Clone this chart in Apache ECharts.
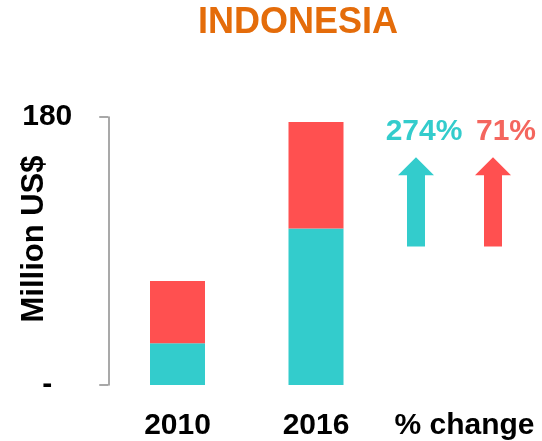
<!DOCTYPE html>
<html>
<head>
<meta charset="utf-8">
<script src="https://cdn.jsdelivr.net/npm/echarts@6/dist/echarts.min.js"></script>
<style>html,body{margin:0;padding:0;background:#fff}#c{width:542px;height:441px}</style>
</head>
<body>
<div id="c"></div>
<script>
var categories = ['2010', '2016', '% change'];
var tealValues = [28.1, 105.1, null];
var redValues = [41.8, 71.5, null];
// arrows in the "% change" column: [category index, arrow bottom, arrow top, side, label]
var changeArrows = [
  [2, 93, 153, -1, '274%'],
  [2, 93, 153, 1, '71%']
];
var yTicks = [0, 180];

var TEAL = '#33CCCC', RED = '#FF5050', RED_TXT = '#F4665E', ORANGE = '#E46C0A';
var FONT = '"Liberation Sans", Arial, sans-serif';

var chart = echarts.init(document.getElementById('c'), null, {renderer: 'canvas'});
chart.setOption({
  animation: false,
  title: {
    text: 'INDONESIA', left: 293, top: 0, textAlign: 'center',
    textStyle: {color: ORANGE, fontSize: 36, fontWeight: 'bold', fontFamily: FONT}
  },
  grid: {left: 108.25, right: 18.25, top: 117, bottom: 55},
  xAxis: {
    type: 'category',
    data: categories.map(function (c, i) {
      return i === 2 ? {value: c, textStyle: {padding: [0, 0, 0, 20]}} : c;
    }),
    axisLine: {show: false}, axisTick: {show: false},
    axisLabel: {color: '#000', fontSize: 30, fontWeight: 'bold', fontFamily: FONT, margin: 26, interval: 0}
  },
  yAxis: {
    type: 'value', min: yTicks[0], max: yTicks[1], interval: yTicks[1] - yTicks[0],
    splitLine: {show: false},
    axisLine: {show: true, lineStyle: {color: '#8c8c8c', width: 1.5}},
    axisTick: {show: true, inside: false, length: 9, lineStyle: {color: '#8c8c8c', width: 1.5}},
    axisLabel: {
      color: '#000', fontSize: 30, fontWeight: 'bold', fontFamily: FONT, margin: 61, align: 'center',
      formatter: function (v) { return v === 0 ? '-' : String(v); }
    }
  },
  graphic: [{
    type: 'text', rotation: Math.PI / 2,
    x: 34, y: 239,
    style: {text: 'Million US$', fill: '#000', font: 'bold 31px ' + FONT, textAlign: 'center', textVerticalAlign: 'middle'}
  }],
  series: [
    {type: 'bar', stack: 's', data: tealValues, barWidth: 55, itemStyle: {color: TEAL}},
    {type: 'bar', stack: 's', data: redValues, barWidth: 55, itemStyle: {color: RED}},
    {
      type: 'custom',
      data: changeArrows,
      renderItem: function (params, api) {
        var cat = api.value(0), lo = api.value(1), hi = api.value(2), side = api.value(3);
        var label = changeArrows[params.dataIndex][4];
        var band = api.size([1, 0])[0];
        var base = api.coord([cat, lo]);
        var top = api.coord([cat, hi]);
        var cx = base[0] + side * band * 0.278;
        var sw = 9, hw = 18, hh = 18;
        var yb = base[1], yt = top[1];
        var color = side < 0 ? TEAL : RED;
        var tcolor = side < 0 ? TEAL : RED_TXT;
        var tx = side < 0 ? cx + 8 : cx + 13;
        return {
          type: 'group',
          children: [
            {type: 'polygon', shape: {points: [
              [cx - sw, yb], [cx + sw, yb], [cx + sw, yt + hh], [cx + hw, yt + hh],
              [cx, yt], [cx - hw, yt + hh], [cx - sw, yt + hh]
            ]}, style: {fill: color}},
            {type: 'text', x: tx, y: yt - 25, style: {
              text: label, fill: tcolor, font: 'bold 30px ' + FONT,
              textAlign: 'center', textVerticalAlign: 'middle'
            }}
          ]
        };
      }
    }
  ]
});
</script>
</body>
</html>
